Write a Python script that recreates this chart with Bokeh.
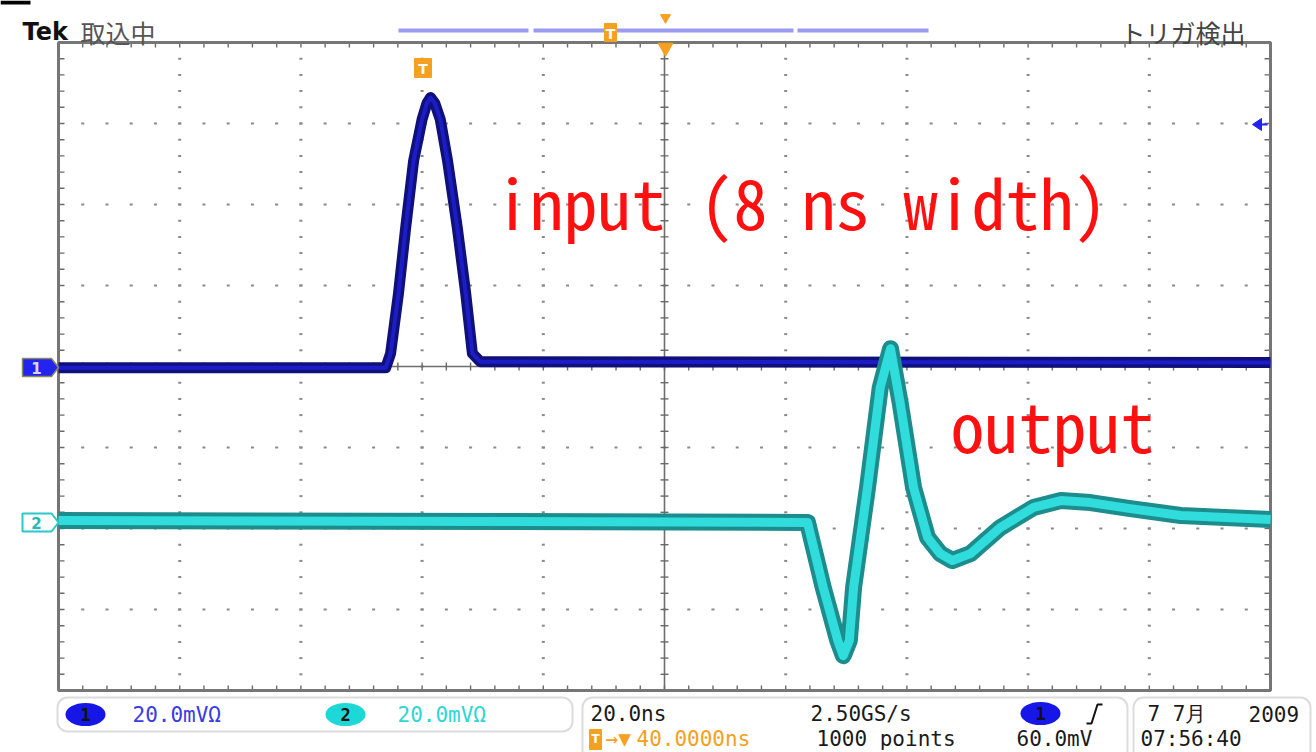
from bokeh.plotting import figure
from bokeh.models import Range1d, BoxAnnotation
from bokeh.core.properties import value
from bokeh.embed import file_html
from bokeh.resources import INLINE

time_per_div_ns = 20.0          # 20.0 ns / div
volt_per_div_mv = 20.0          # 20.0 mV / div
n_xdiv = 10
n_ydiv = 8

# channel 1 : input pulse (mV, ground at screen centre)
ch1_t_ns = [0, 54.0, 54.8, 56.1, 57.3, 58.6, 60.0, 60.8, 61.4, 62.1, 63.0, 64.2,
            65.8, 67.2, 68.3, 69.6, 200]
ch1_mv = [-0.3, -0.3, 3.2, 18.0, 34.4, 50.8, 61.0, 65.0, 66.4, 65.0, 61.0, 50.8,
          34.4, 18.0, 3.2, 1.2, 1.0]

# channel 2 : output (mV relative to its own ground marker)
ch2_offset_mv = -38.0
ch2_t_ns = [0, 123.6, 126.2, 128.6, 129.5, 130.5, 131.2, 133.5, 135.6, 137.3, 138.9,
            141.1, 143.4, 145.5, 147.5, 150.5, 155.4, 160.9, 165.4, 170.3, 176.9,
            185.2, 200]
ch2_mv = [0, -0.5, -16.6, -29.7, -33.4, -29.7, -16.6, 8.1, 32.8, 42.4, 28.9,
          8.1, -4.2, -8.2, -9.9, -8.2, -1.8, 3.2, 4.9, 4.4, 2.9, 1.2, 0.2]

label_input = "input (8 ns width)"
label_output = "output"
header_left = "Tek"
header_state = "取込中"
header_right = "トリガ検出"
ch_scale = "20.0mVΩ"
time_scale = "20.0ns"
sample_rate = "2.50GS/s"
trig_arrow = "→▼"
trig_pos = "40.0000ns"
rec_len = "1000 points"
trig_level = "60.0mV"
date_day = "7 7月"
date_year = "2009"
time_txt = "07:56:40"

# ---------------- geometry ----------------
W, H = 1316, 752
L, R, T, B = 58, 1270, 42, 690
CX, CY = (L + R) / 2, (T + B) / 2
t_span = time_per_div_ns * n_xdiv
v_span = volt_per_div_mv * n_ydiv
ns_per_px = t_span / (R - L)
mv_per_px = v_span / (B - T)

p = figure(width=W, height=H, output_backend="svg", toolbar_location=None,
           x_axis_location=None, y_axis_location=None, min_border=0,
           x_range=Range1d(-L * ns_per_px, (W - L) * ns_per_px),
           y_range=Range1d(-(H - CY) * mv_per_px, CY * mv_per_px),
           background_fill_color="white", border_fill_color="white")
p.outline_line_color = None
p.grid.visible = False
p.extra_x_ranges = {"px": Range1d(0, W)}
p.extra_y_ranges = {"px": Range1d(H, 0)}
PX = dict(x_range_name="px", y_range_name="px")

# dotted graticule (decoration in screen pixels)
dx = (R - L) / n_xdiv
dy = (B - T) / n_ydiv
mx = [L + i * (R - L) / 50 for i in range(1, 50)]
my = [T + j * (B - T) / 40 for j in range(1, 40)]
gx, gy = [], []
for i in range(1, n_xdiv):
    if i == n_xdiv // 2:
        continue
    for y in my:
        gx.append(L + i * dx); gy.append(y)
for j in range(1, n_ydiv):
    if j == n_ydiv // 2:
        continue
    for x in mx:
        gx.append(x); gy.append(T + j * dy)
p.segment(x0=[x - 1.5 for x in gx], y0=gy, x1=[x + 1.5 for x in gx], y1=gy,
          line_color="#8a8a8a", line_width=2, **PX)

# centre cross
p.segment(x0=[t_span / 2, 0], y0=[-v_span / 2, 0], x1=[t_span / 2, t_span], y1=[v_span / 2, 0],
          line_color="#6e6e6e", line_width=1.6)

# tick marks
sx0, sy0, sx1, sy1 = [], [], [], []
for y in my:
    sx0 += [CX - 4, L, R - 6]; sx1 += [CX + 4, L + 6, R]; sy0 += [y] * 3; sy1 += [y] * 3
for x in mx:
    sy0 += [CY - 4, T, B - 5]; sy1 += [CY + 4, T + 5, B]; sx0 += [x] * 3; sx1 += [x] * 3
p.segment(x0=sx0, y0=sy0, x1=sx1, y1=sy1, line_color="#6a6a6a", line_width=1.4, **PX)

# frame
p.quad(left=[L], right=[R], top=[T], bottom=[B], fill_color=None,
       line_color="#767676", line_width=3, **PX)

# traces
p.line(ch1_t_ns, ch1_mv, line_color="#10107a", line_width=11, line_join="round")
p.line(ch1_t_ns, ch1_mv, line_color="#1d1dc8", line_width=4, line_join="round")
ch2_screen = [ch2_offset_mv + v for v in ch2_mv]
p.line(ch2_t_ns, ch2_screen, line_color="#1c8c8c", line_width=17, line_join="round")
p.line(ch2_t_ns, ch2_screen, line_color="#30dcdc", line_width=9, line_join="round")

# big red annotations
MONO = value("Noto Sans Mono CJK JP")
p.text(x=[495], y=[200], text=[label_input], text_color="#ff1010", text_font=MONO,
       text_font_size=value("68px"), text_baseline="alphabetic", **PX)
p.text(x=[950], y=[423], text=[label_output], text_color="#ff1010", text_font=MONO,
       text_font_size=value("68px"), text_baseline="alphabetic", **PX)

# ---------------- header ----------------
p.quad(left=[0], right=[30], top=[0], bottom=[4], fill_color="black", line_color=None, **PX)
p.text(x=[22], y=[31], text=[header_left], text_font=value("DejaVu Sans"), text_font_style="bold",
       text_font_size=value("24px"), text_color="#111111", text_baseline="middle", **PX)
p.text(x=[80], y=[31], text=[header_state], text_font=value("Noto Sans CJK JP"),
       text_font_size=value("25px"), text_color="#555555", text_baseline="middle", **PX)
p.text(x=[1245], y=[31], text=[header_right], text_font=value("Noto Sans CJK JP"),
       text_font_size=value("25px"), text_color="#444444", text_baseline="middle",
       text_align="right", **PX)
p.segment(x0=[398, 533, 797], y0=[30] * 3, x1=[528, 793, 928], y1=[30] * 3,
          line_color="#9a9af0", line_width=4, **PX)
ORANGE = "#f5a020"
p.quad(left=[604, 414], right=[616, 431], top=[23, 58], bottom=[41, 77],
       fill_color=ORANGE, line_color=ORANGE, **PX)
p.text(x=[610, 422.5], y=[33, 68], text=["T", "T"], text_color="white",
       text_font=value("DejaVu Sans"), text_font_style="bold",
       text_font_size=value("14px"), text_align="center", text_baseline="middle", **PX)
p.scatter(x=[665, 665], y=[17, 47], size=[10, 15], marker="inverted_triangle",
          fill_color=ORANGE, line_color=ORANGE, **PX)
# right-side blue arrow
p.patch(x=[1252, 1261, 1261], y=[124, 118, 130], fill_color="#2323ee", line_color="#2323ee", **PX)
p.segment(x0=[1256], y0=[124], x1=[1267], y1=[124], line_color="#2323ee", line_width=2, **PX)

# channel ground markers
p.patch(x=[22, 51, 58, 51, 22], y=[358, 358, 367, 376, 376], fill_color="#2424f0",
        line_color="#8a8a5a", line_width=1.5, **PX)
p.text(x=[36], y=[367], text=["1"], text_color="#d8d8ff", text_font=value("DejaVu Sans"),
       text_font_style="bold", text_font_size=value("15px"), text_align="center",
       text_baseline="middle", **PX)
p.patch(x=[22, 51, 58, 51, 22], y=[513, 513, 522, 531, 531], fill_color="white",
        line_color="#2ac8c8", line_width=2, **PX)
p.text(x=[36], y=[522], text=["2"], text_color="#2ab8b8", text_font=value("DejaVu Sans"),
       text_font_style="bold", text_font_size=value("15px"), text_align="center",
       text_baseline="middle", **PX)

# ---------------- footer ----------------
for (bl, br, bt, bb) in [(57, 572, 697, 731), (582, 1127, 697, 770), (1133, 1310, 697, 770)]:
    p.add_layout(BoxAnnotation(left=bl, right=br, top=bt, bottom=bb, fill_color=None,
                               line_color="#8a8a8a", line_width=2, border_radius=10,
                               level="overlay", **PX))

FT = value("DejaVu Sans Mono")
FS = value("21px")
ROW1, ROW2 = 713, 738
p.ellipse(x=[85, 345, 1040], y=[714, 714, ROW1], width=40, height=23, width_units="screen",
          height_units="screen", fill_color=["#1616e6", "#1ed8d8", "#1616e6"], line_color=None, **PX)
p.text(x=[85, 345, 1040], y=[714, 714, ROW1], text=["1", "2", "1"], text_color="#111111",
       text_font=FT, text_font_style="bold", text_font_size=value("17px"),
       text_align="center", text_baseline="middle", **PX)
p.text(x=[132], y=[714], text=[ch_scale], text_color="#3a3ae6", text_font=FT, text_font_size=FS,
       text_baseline="middle", **PX)
p.text(x=[397], y=[714], text=[ch_scale], text_color="#2ed6d6", text_font=FT, text_font_size=FS,
       text_baseline="middle", **PX)
p.text(x=[590, 810, 816, 1016], y=[ROW1, ROW1, ROW2, ROW2],
       text=[time_scale, sample_rate, rec_len, trig_level], text_color="#1a1a1a",
       text_font=FT, text_font_size=FS, text_baseline="middle", **PX)
p.line(x=[1086, 1091, 1097, 1102], y=[723, 723, 704, 704], line_color="#111111", line_width=2, **PX)
p.quad(left=[589], right=[601], top=[729], bottom=[749], fill_color=ORANGE, line_color=ORANGE, **PX)
p.text(x=[595], y=[ROW2], text=["T"], text_color="white", text_font=value("DejaVu Sans"),
       text_font_style="bold", text_font_size=value("12px"), text_align="center",
       text_baseline="middle", **PX)
p.text(x=[605, 636], y=[ROW2, ROW2], text=[trig_arrow, trig_pos], text_color=ORANGE, text_font=FT,
       text_font_size=FS, text_baseline="middle", **PX)
p.text(x=[1147, 1248, 1140], y=[ROW1, ROW1, ROW2], text=[date_day, date_year, time_txt],
       text_color="#1a1a1a", text_font=FT, text_font_size=FS, text_baseline="middle", **PX)

open("out.html", "w").write(file_html(p, INLINE))
